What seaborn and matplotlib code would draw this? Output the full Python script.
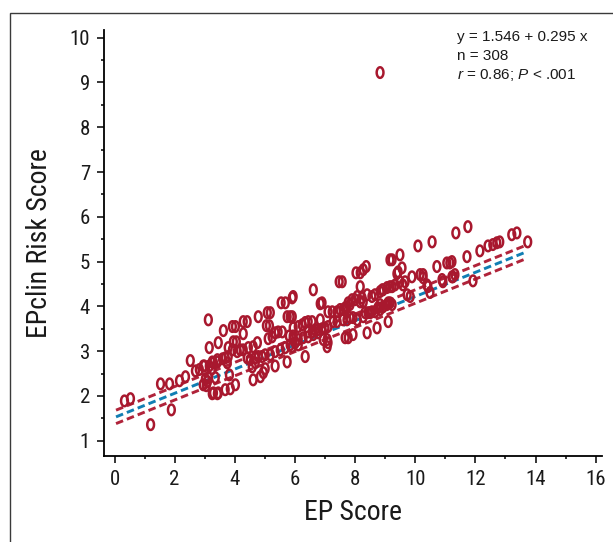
import numpy as np
import pandas as pd
import matplotlib
matplotlib.use("Agg")
import matplotlib.pyplot as plt
from matplotlib.path import Path
from matplotlib.patches import Rectangle
from matplotlib.ticker import AutoMinorLocator
import seaborn as sns

# values
ep_score = [
    0.33, 0.53, 1.20, 1.53, 1.83, 1.89, 2.16, 2.36, 2.52, 2.69, 2.82, 2.99, 3.15, 3.15, 3.12,
    3.45, 3.25, 3.42, 3.09, 3.12, 3.05, 3.25, 3.42, 3.68, 3.85, 4.02, 5.94, 5.54, 5.68, 5.84,
    5.74, 5.08, 5.18, 4.78, 4.28, 4.41, 3.92, 4.02, 3.62, 5.05, 5.15, 4.28, 5.44, 5.58, 5.34,
    5.11, 5.24, 5.81, 5.94, 5.94, 3.95, 4.05, 3.78, 3.92, 4.18, 4.28, 4.45, 4.61, 4.75, 4.41,
    4.51, 4.68, 4.78, 4.91, 5.01, 5.18, 5.34, 5.51, 5.68, 5.84, 6.01, 2.95, 3.29, 3.42, 3.59,
    3.68, 3.25, 3.78, 3.75, 3.02, 2.95, 3.82, 4.61, 4.85, 5.01, 4.95, 5.34, 5.74, 3.29, 3.45,
    4.58, 4.68, 9.16, 8.37, 8.27, 8.03, 8.17, 7.47, 7.57, 8.17, 6.61, 5.91, 6.90, 6.84, 7.90,
    8.00, 7.77, 7.67, 7.83, 8.07, 8.40, 8.56, 8.66, 8.83, 8.90, 9.06, 9.16, 8.17, 8.27, 8.23,
    7.10, 7.24, 7.40, 5.91, 7.50, 7.60, 7.73, 8.33, 8.43, 8.56, 8.66, 8.76, 8.93, 9.06, 9.16,
    6.11, 6.24, 6.34, 6.44, 6.57, 6.84, 7.27, 7.40, 7.60, 7.73, 7.83, 7.93, 8.07, 8.27, 8.50,
    8.83, 6.90, 7.00, 7.10, 6.44, 6.57, 6.67, 6.77, 5.94, 6.11, 6.27, 6.44, 6.61, 6.77, 5.91,
    6.11, 6.94, 7.07, 7.67, 7.77, 7.93, 8.40, 8.73, 9.10, 7.07, 7.10, 6.34, 11.35, 10.56, 10.09,
    9.23, 9.49, 11.05, 11.15, 10.72, 9.56, 9.43, 9.39, 9.89, 10.16, 10.26, 10.26, 10.89, 11.25,
    9.49, 9.66, 9.59, 8.93, 9.23, 9.33, 10.39, 10.42, 9.73, 9.83, 10.49, 10.92, 8.83, 9.10,
    9.23, 11.75, 13.38, 13.21, 13.74, 12.81, 12.71, 12.58, 12.42, 12.15, 11.72, 11.22, 11.32,
    11.22, 11.92, 8.83, 3.35, 4.08,
]
epclin_score = [
    1.89, 1.94, 1.36, 2.27, 2.27, 1.69, 2.34, 2.43, 2.79, 2.56, 2.59, 2.67, 2.67, 3.08, 3.70,
    3.19, 2.76, 2.76, 2.32, 2.41, 2.23, 2.05, 2.05, 2.14, 2.16, 2.25, 4.22, 4.08, 4.08, 3.77,
    3.77, 3.86, 3.86, 3.77, 3.66, 3.66, 3.55, 3.55, 3.46, 3.57, 3.57, 3.39, 3.43, 3.43, 3.41,
    3.28, 3.32, 3.34, 3.34, 3.52, 3.21, 3.21, 3.08, 3.03, 3.03, 3.03, 3.08, 3.10, 3.19, 2.85,
    2.81, 2.85, 2.88, 2.88, 2.92, 2.92, 2.99, 3.03, 3.08, 3.14, 3.19, 2.67, 2.74, 2.81, 2.83,
    2.85, 2.61, 2.88, 2.74, 2.38, 2.25, 2.47, 2.36, 2.43, 2.61, 2.52, 2.67, 2.76, 2.07, 2.07,
    2.65, 2.74, 5.04, 4.89, 4.82, 4.75, 4.75, 4.55, 4.55, 4.44, 4.37, 4.19, 4.08, 4.06, 4.15,
    4.15, 4.08, 3.97, 4.04, 4.22, 4.26, 4.22, 4.26, 4.33, 4.37, 4.42, 4.44, 4.10, 4.10, 4.19,
    3.88, 3.88, 3.88, 3.77, 3.93, 3.93, 3.99, 3.86, 3.86, 3.88, 3.88, 3.97, 3.99, 4.04, 4.08,
    3.55, 3.59, 3.64, 3.66, 3.66, 3.70, 3.66, 3.66, 3.70, 3.70, 3.75, 3.75, 3.70, 3.77, 3.86,
    3.93, 3.50, 3.52, 3.55, 3.43, 3.43, 3.48, 3.48, 3.26, 3.26, 3.30, 3.32, 3.37, 3.41, 3.10,
    3.14, 3.26, 3.26, 3.30, 3.30, 3.37, 3.41, 3.52, 3.66, 3.10, 3.19, 2.88, 5.64, 5.44, 5.35,
    5.04, 5.15, 4.97, 4.97, 4.89, 4.86, 4.77, 4.73, 4.66, 4.71, 4.71, 4.64, 4.60, 4.66,
    4.55, 4.55, 4.48, 4.37, 4.44, 4.48, 4.48, 4.44, 4.26, 4.22, 4.31, 4.55, 4.04, 4.08,
    4.04, 5.78, 5.64, 5.60, 5.44, 5.44, 5.42, 5.38, 5.35, 5.24, 5.11, 5.00, 4.71,
    4.66, 4.57, 9.22, 2.41, 2.99,
]

# fitted line and band as drawn
fit_intercept = 1.52
fit_slope = 0.27
band_offset = 0.15
fit_x_range = [0.05, 13.7]

x_ticks = list(range(0, 17, 2))
y_ticks = list(range(1, 11))

stat_lines = ["y = 1.546 + 0.295 x", "n = 308", "$r$ = 0.86; $P$ < .001"]

dark_red = "#A8182E"
band_red = "#B0233A"
fit_blue = "#117EB3"

sns.set_theme(style="ticks")
plt.rcParams['font.family'] = ['Roboto Condensed', 'Liberation Sans Narrow', 'DejaVu Sans']
plt.rcParams['font.stretch'] = 'condensed'
plt.rcParams['mathtext.fontset'] = 'custom'
plt.rcParams['mathtext.it'] = 'Liberation Sans:italic'
plt.rcParams['mathtext.rm'] = 'Liberation Sans'

df = pd.DataFrame({'ep': ep_score, 'epclin': epclin_score})

xs = np.array(fit_x_range)
fit_df = pd.DataFrame({
    'x': xs,
    'fit': fit_intercept + fit_slope * xs,
    'upper': fit_intercept + band_offset + fit_slope * xs,
    'lower': fit_intercept - band_offset + fit_slope * xs,
})

fig = plt.figure(figsize=(6.13, 5.42), dpi=100)
ax = fig.add_axes([104 / 613, 86 / 542, 498 / 613, 426 / 542])

dash = (0, (2.6, 1.4))
sns.lineplot(data=fit_df, x='x', y='upper', color=band_red, linestyle=dash, lw=2.1, ax=ax)
sns.lineplot(data=fit_df, x='x', y='lower', color=band_red, linestyle=dash, lw=2.1, ax=ax)
sns.lineplot(data=fit_df, x='x', y='fit', color=fit_blue, linestyle=dash, lw=2.1, ax=ax)

# tall open ellipse, like the "0" markers of the original
t = np.linspace(0, 2 * np.pi, 60)
ellipse = Path(np.column_stack([0.64 * np.cos(t), np.sin(t)]), closed=True)
sns.scatterplot(data=df, x='ep', y='epclin', marker=ellipse, s=58,
                facecolors='none', edgecolor=dark_red, color=dark_red,
                linewidth=1.8, zorder=3, ax=ax)

ax.set_xlim(-0.35, 16.21)
ax.set_ylim(0.66, 10.17)
ax.set_xticks(x_ticks)
ax.set_yticks(y_ticks)
ax.xaxis.set_minor_locator(AutoMinorLocator(2))
ax.yaxis.set_minor_locator(AutoMinorLocator(2))
ax.tick_params(which='major', direction='out', length=5, width=1.1, labelsize=15,
               color='black', labelcolor='#1a1a1a', pad=5)
ax.tick_params(which='minor', direction='out', length=2.5, width=1.1, color='black')
for side in ['left', 'bottom']:
    ax.spines[side].set_linewidth(1.3)
    ax.spines[side].set_color('black')
sns.despine(ax=ax)

ax.set_xlabel('EP Score', fontsize=20, labelpad=7, color='#1a1a1a')
ax.set_ylabel('EPclin Risk Score', fontsize=20, labelpad=12, color='#1a1a1a')

for i, line in enumerate(stat_lines):
    fig.text(457 / 613, 1 - (30 + 18.5 * i) / 542, line, ha='left', va='top',
             fontsize=11, family=['Liberation Sans', 'DejaVu Sans'], stretch='normal',
             color='#1a1a1a')

# thin frame round the panel
fig.add_artist(Rectangle((10 / 613, -0.05), 1.2, 1.05 - 13 / 542,
                         transform=fig.transFigure, fill=False, lw=1.0, ec='#3a3a3a'))

fig.savefig('out.png', dpi=100)
